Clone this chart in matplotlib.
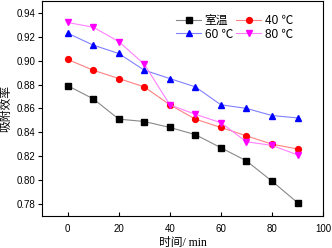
import matplotlib
matplotlib.use("Agg")
import matplotlib.pyplot as plt

time_min = [0, 10, 20, 30, 40, 50, 60, 70, 80, 90]
room_temp = [0.879, 0.868, 0.851, 0.849, 0.844, 0.838, 0.827, 0.816, 0.799, 0.781]
temp_40 = [0.901, 0.892, 0.885, 0.878, 0.863, 0.851, 0.844, 0.837, 0.830, 0.826]
temp_60 = [0.923, 0.913, 0.906, 0.892, 0.885, 0.878, 0.863, 0.860, 0.854, 0.852]
temp_80 = [0.932, 0.928, 0.916, 0.897, 0.863, 0.855, 0.848, 0.832, 0.829, 0.821]
labels = ["室温", "40 ℃", "60 ℃", "80 ℃"]

plt.rcParams['font.family'] = ['Liberation Sans', 'Noto Sans CJK SC', 'DejaVu Sans']
serif = ['Liberation Serif', 'Noto Sans CJK SC', 'DejaVu Sans']

fig = plt.figure(figsize=(3.32, 2.48), dpi=100)
ax = fig.add_axes([0.127, 0.130, 0.846, 0.866])

series = [room_temp, temp_40, temp_60, temp_80]
line_colors = ['#888888', '#ff8080', '#8080ff', '#ff80ff']
mcolors = ['black', 'red', 'blue', 'magenta']
markers = ['s', 'o', '^', 'v']
handles = []
for s, lc, mc, m, lab in zip(series, line_colors, mcolors, markers, labels):
    h, = ax.plot(time_min, s, color=lc, lw=0.8, marker=m, markersize=4.2,
                 markerfacecolor=mc, markeredgecolor=mc, label=lab)
    handles.append(h)

ax.set_xlim(-10, 100)
ax.set_ylim(0.77, 0.95)
ax.set_xticks([0, 20, 40, 60, 80, 100])
yt = [0.78, 0.80, 0.82, 0.84, 0.86, 0.88, 0.90, 0.92, 0.94]
ax.set_yticks(yt)
ax.set_yticklabels([f"{v:.2f}" for v in yt])
ax.tick_params(axis='x', direction='in', length=3, labelsize=7, pad=6)
ax.tick_params(axis='y', direction='out', length=3, labelsize=7, pad=2)
for sp in ax.spines.values():
    sp.set_linewidth(0.8)

ax.set_xlabel("时间/ min", fontsize=8.5, labelpad=2, family=serif)
ax.set_ylabel("吸附效率", fontsize=8.5, labelpad=3, family=serif)

order = [0, 2, 1, 3]
leg = ax.legend([handles[i] for i in order], [labels[i] for i in order],
                ncol=2, loc='upper left', frameon=False, fontsize=8.5,
                handlelength=2.1, handletextpad=0.3, columnspacing=0.3,
                labelspacing=0.15, bbox_to_anchor=(0.44, 0.985))
leg.get_texts()[0].set_family(serif)

fig.savefig("out.png", dpi=100)
